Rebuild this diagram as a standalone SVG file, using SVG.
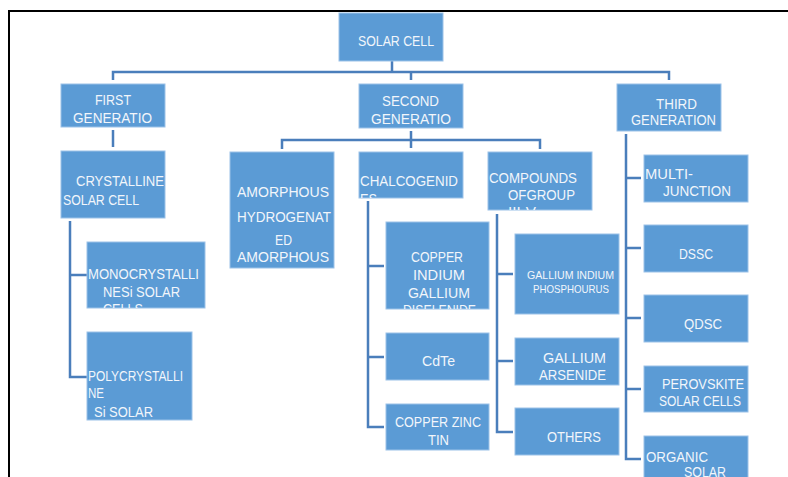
<svg xmlns="http://www.w3.org/2000/svg" width="788" height="477" viewBox="0 0 788 477">
<style>
.b{fill:#5b9bd5;stroke:#9cc2e8;stroke-width:1}
.t{font-family:"Liberation Sans",Arial,sans-serif;font-size:14px;fill:#f2f6fb}
.s{font-size:10.5px}
.c{fill:none;stroke:#4a7ebb;stroke-width:2.5}
</style>
<defs>
<clipPath id="cMono"><rect x="87" y="242" width="118" height="66"/></clipPath>
<clipPath id="cAmor"><rect x="230" y="152" width="104" height="116"/></clipPath>
<clipPath id="cChal"><rect x="359" y="152" width="104" height="46"/></clipPath>
<clipPath id="cComp"><rect x="488" y="152" width="104" height="58"/></clipPath>
<clipPath id="cCigs"><rect x="386" y="222" width="103" height="87"/></clipPath>
</defs>
<rect width="788" height="477" fill="#fff"/>
<path d="M9 477V11H788" fill="none" stroke="#000" stroke-width="2"/>
<g id="connectors">
<path class="c" d="M392 61V72M113 80V72H669V80M411 72V80"/>
<path class="c" d="M113 130V147"/>
<path class="c" d="M411 131V148M282 149V140H540V149"/>
<path class="c" d="M70 221V377H87M70 275H87"/>
<path class="c" d="M368 201V427H384M368 266H384M368 357H384"/>
<path class="c" d="M497 214V432H513M497 274H513M497 361H513"/>
<path class="c" d="M626 134V459H641M626 178H641M626 248H641M626 318H641M626 389H641"/>
</g>
<g id="solar-cell"><rect class="b" x="339" y="13" width="104" height="48"/><text class="t" x="358" y="46" textLength="76" lengthAdjust="spacingAndGlyphs">SOLAR CELL</text></g>
<g id="first-gen"><rect class="b" x="61" y="84" width="104" height="43"/><text class="t" x="95" y="105" textLength="36" lengthAdjust="spacingAndGlyphs">FIRST</text><text class="t" x="73" y="123" textLength="79" lengthAdjust="spacingAndGlyphs">GENERATIO</text></g>
<g id="second-gen"><rect class="b" x="359" y="84" width="104" height="44"/><text class="t" x="382" y="106" textLength="57" lengthAdjust="spacingAndGlyphs">SECOND</text><text class="t" x="371" y="124" textLength="80" lengthAdjust="spacingAndGlyphs">GENERATIO</text></g>
<g id="third-gen"><rect class="b" x="617" y="84" width="104" height="47"/><text class="t" x="656" y="109" textLength="41" lengthAdjust="spacingAndGlyphs">THIRD</text><text class="t" x="631" y="125" textLength="85" lengthAdjust="spacingAndGlyphs">GENERATION</text></g>
<g id="crystalline"><rect class="b" x="61" y="151" width="104" height="67"/><text class="t" x="76" y="186" textLength="88" lengthAdjust="spacingAndGlyphs">CRYSTALLINE</text><text class="t" x="63" y="205" textLength="76" lengthAdjust="spacingAndGlyphs">SOLAR CELL</text></g>
<g id="mono"><rect class="b" x="87" y="242" width="118" height="66"/><g clip-path="url(#cMono)"><text class="t" x="88" y="279" textLength="111" lengthAdjust="spacingAndGlyphs">MONOCRYSTALLI</text><text class="t" x="103" y="297" textLength="77" lengthAdjust="spacingAndGlyphs">NESi SOLAR</text><text class="t" x="103" y="314" textLength="40" lengthAdjust="spacingAndGlyphs">CELLS</text></g></g>
<g id="poly"><rect class="b" x="87" y="332" width="105" height="88"/><text class="t" x="88" y="381" textLength="95" lengthAdjust="spacingAndGlyphs">POLYCRYSTALLI</text><text class="t" x="88" y="398" textLength="16" lengthAdjust="spacingAndGlyphs">NE</text><text class="t" x="94" y="417" textLength="59" lengthAdjust="spacingAndGlyphs">Si SOLAR</text></g>
<g id="amorphous"><rect class="b" x="230" y="152" width="104" height="116"/><g clip-path="url(#cAmor)"><text class="t" x="237" y="197" textLength="92" lengthAdjust="spacingAndGlyphs">AMORPHOUS</text><text class="t" x="237" y="222" textLength="94" lengthAdjust="spacingAndGlyphs">HYDROGENAT</text><text class="t" x="275" y="245" textLength="17" lengthAdjust="spacingAndGlyphs">ED</text><text class="t" x="237" y="262" textLength="92" lengthAdjust="spacingAndGlyphs">AMORPHOUS</text><text class="t" x="276" y="280" textLength="14" lengthAdjust="spacingAndGlyphs">Si</text></g></g>
<g id="chalcogenides"><rect class="b" x="359" y="152" width="104" height="46"/><g clip-path="url(#cChal)"><text class="t" x="360" y="186" textLength="98" lengthAdjust="spacingAndGlyphs">CHALCOGENID</text><text class="t" x="360" y="204" textLength="17" lengthAdjust="spacingAndGlyphs">ES</text></g></g>
<g id="compounds"><rect class="b" x="488" y="152" width="104" height="58"/><g clip-path="url(#cComp)"><text class="t" x="489" y="183" textLength="88" lengthAdjust="spacingAndGlyphs">COMPOUNDS</text><text class="t" x="508" y="200" textLength="67" lengthAdjust="spacingAndGlyphs">OFGROUP</text><text class="t" x="508" y="217" textLength="28" lengthAdjust="spacingAndGlyphs">III-V</text></g></g>
<g id="cigs"><rect class="b" x="386" y="222" width="103" height="87"/><g clip-path="url(#cCigs)"><text class="t" x="411" y="262" textLength="52" lengthAdjust="spacingAndGlyphs">COPPER</text><text class="t" x="413" y="280" textLength="52" lengthAdjust="spacingAndGlyphs">INDIUM</text><text class="t" x="408" y="298" textLength="62" lengthAdjust="spacingAndGlyphs">GALLIUM</text><text class="t" x="403" y="315" textLength="73" lengthAdjust="spacingAndGlyphs">DISELENIDE</text></g></g>
<g id="cdte"><rect class="b" x="386" y="333" width="103" height="47"/><text class="t" x="422" y="366" textLength="33" lengthAdjust="spacingAndGlyphs">CdTe</text></g>
<g id="czt"><rect class="b" x="386" y="404" width="103" height="46"/><text class="t" x="395" y="427" textLength="86" lengthAdjust="spacingAndGlyphs">COPPER ZINC</text><text class="t" x="428" y="445" textLength="21" lengthAdjust="spacingAndGlyphs">TIN</text></g>
<g id="gainp"><rect class="b" x="515" y="234" width="104" height="80"/><text class="t s" x="527" y="279" textLength="87" lengthAdjust="spacingAndGlyphs">GALLIUM INDIUM</text><text class="t s" x="533" y="293" textLength="76" lengthAdjust="spacingAndGlyphs">PHOSPHOURUS</text></g>
<g id="gaas"><rect class="b" x="515" y="338" width="104" height="47"/><text class="t" x="543" y="363" textLength="63" lengthAdjust="spacingAndGlyphs">GALLIUM</text><text class="t" x="539" y="380" textLength="67" lengthAdjust="spacingAndGlyphs">ARSENIDE</text></g>
<g id="others"><rect class="b" x="515" y="408" width="104" height="47"/><text class="t" x="547" y="442" textLength="54" lengthAdjust="spacingAndGlyphs">OTHERS</text></g>
<g id="multi"><rect class="b" x="644" y="155" width="104" height="47"/><text class="t" x="645" y="179" textLength="48" lengthAdjust="spacingAndGlyphs">MULTI-</text><text class="t" x="663" y="196" textLength="68" lengthAdjust="spacingAndGlyphs">JUNCTION</text></g>
<g id="dssc"><rect class="b" x="644" y="225" width="104" height="47"/><text class="t" x="679" y="259" textLength="34" lengthAdjust="spacingAndGlyphs">DSSC</text></g>
<g id="qdsc"><rect class="b" x="644" y="295" width="104" height="47"/><text class="t" x="684" y="329" textLength="38" lengthAdjust="spacingAndGlyphs">QDSC</text></g>
<g id="perovskite"><rect class="b" x="644" y="366" width="104" height="46"/><text class="t" x="662" y="389" textLength="82" lengthAdjust="spacingAndGlyphs">PEROVSKITE</text><text class="t" x="659" y="406" textLength="82" lengthAdjust="spacingAndGlyphs">SOLAR CELLS</text></g>
<g id="organic"><rect class="b" x="644" y="436" width="104" height="46"/><text class="t" x="646" y="462" textLength="62" lengthAdjust="spacingAndGlyphs">ORGANIC</text><text class="t" x="684" y="477" textLength="42" lengthAdjust="spacingAndGlyphs">SOLAR</text></g>
</svg>
